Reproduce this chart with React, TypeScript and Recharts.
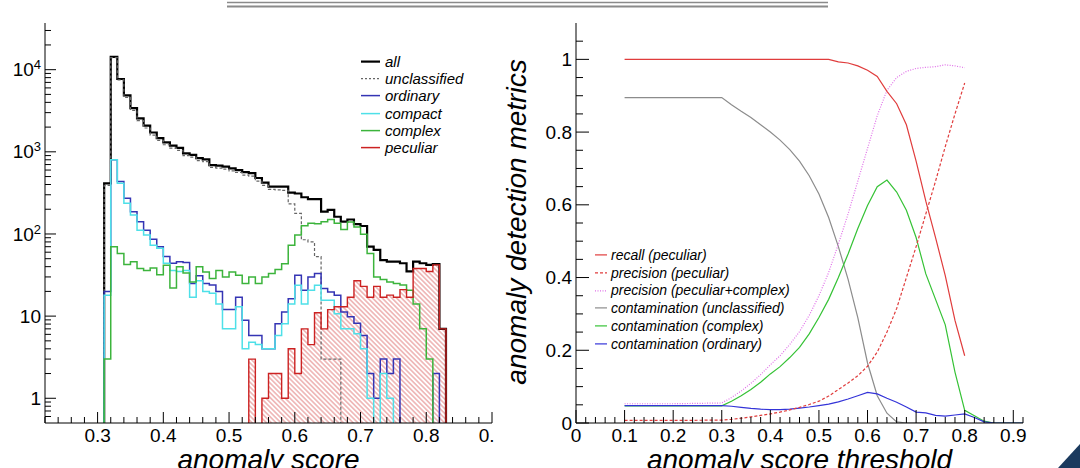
import React from "react";
import { ComposedChart, LineChart, Line, Area, XAxis, YAxis, Legend } from "recharts";

const FONT = '"Liberation Sans", Arimo, Arial, sans-serif';

// ---------------- left panel: anomaly score histogram ----------------
// lower edges of the 0.01 wide bins, last bin ends at 0.83
const binLow = [
  0.31, 0.32, 0.33, 0.34, 0.35, 0.36, 0.37, 0.38, 0.39, 0.4,
  0.41, 0.42, 0.43, 0.44, 0.45, 0.46, 0.47, 0.48, 0.49, 0.5,
  0.51, 0.52, 0.53, 0.54, 0.55, 0.56, 0.57, 0.58, 0.59, 0.6,
  0.61, 0.62, 0.63, 0.64, 0.65, 0.66, 0.67, 0.68, 0.69, 0.7,
  0.71, 0.72, 0.73, 0.74, 0.75, 0.76, 0.77, 0.78, 0.79, 0.8,
  0.81, 0.82,
];
const histStart = 0.3;
const histEnd = 0.83;

const countsAll = [
  414, 14300, 7700, 4860, 3400, 2560, 2080, 1720, 1470, 1300,
  1190, 1120, 960, 920, 840, 810, 690, 680, 660, 630,
  600, 565, 550, 480, 422, 377, 377, 377, 318, 311,
  280, 265, 265, 187, 196, 162, 141, 150, 132, 125,
  70, 64, 48, 46, 46, 44, 35, 46, 44, 42,
  43, 7,
];
const countsUnclassified = [
  390, 14000, 7500, 4600, 3200, 2400, 1950, 1600, 1380, 1220,
  1110, 1040, 900, 860, 780, 760, 645, 635, 615, 585,
  560, 520, 505, 440, 390, 350, 345, 340, 232, 178,
  85, 80, 53, 3, 3, 3, 0, 0, 0, 0,
  0, 0, 0, 0, 0, 0, 0, 0, 0, 0,
  0, 0,
];
const countsOrdinary = [
  20, 800, 434, 272, 187, 141, 111, 86, 70, 53,
  44, 46, 45, 25, 31, 25, 24, 20, 12, 12,
  17, 8.9, 5.8, 5.8, 4, 4, 8.1, 11.2, 16.3, 31.5,
  20.6, 30, 33, 21.7, 19.7, 18, 11.2, 9.8, 8.2, 5.8,
  2, 1, 3, 2, 3, 0, 0, 0, 0, 0,
  2, 0,
];
const countsCompact = [
  18, 800, 415, 237, 170, 111, 97, 73, 67, 44,
  36, 35, 36, 17, 27, 20, 19, 14, 7, 7,
  13, 4, 4.8, 4.5, 4, 4, 5.8, 8.1, 14, 23.7,
  14, 20.6, 23.7, 15.6, 15.6, 10.7, 7, 7, 6.1, 4,
  1, 0, 2, 1, 0, 0, 0, 0, 0, 0,
  0, 0,
];
const countsComplex = [
  3, 70, 58, 42.5, 46, 38, 36, 38.6, 32, 41.5,
  22, 40, 33.6, 26, 40, 34.5, 28.7, 36, 30, 34.5,
  31.5, 25, 30, 25, 30, 33, 37, 43.5, 73, 97,
  126, 135, 133, 141, 150, 135, 113, 140, 122, 99,
  58, 30, 28, 26, 25, 24, 20.6, 14, 7, 3,
  0, 0,
];
const countsPeculiar = [
  0, 0, 0, 0, 0, 0, 0, 0, 0, 0,
  0, 0, 0, 0, 0, 0, 0, 0, 0, 0,
  0, 0, 3, 0, 1, 2, 2, 1, 4, 2,
  7, 4.5, 11, 7, 12, 13, 13, 17, 27, 23,
  17, 23, 17, 18, 17, 21, 17, 38, 38, 35,
  42, 7,
];

const scoreTicks = [
  0.22, 0.24, 0.26, 0.28, 0.3, 0.32, 0.34, 0.36, 0.38, 0.4, 0.42, 0.44, 0.46, 0.48, 0.5,
  0.52, 0.54, 0.56, 0.58, 0.6, 0.62, 0.64, 0.66, 0.68, 0.7, 0.72, 0.74, 0.76, 0.78, 0.8,
  0.82, 0.84, 0.86, 0.88, 0.9,
];
const scoreMajor = [0.3, 0.4, 0.5, 0.6, 0.7, 0.8, 0.9];
const logTicks = [
  0.6, 0.7, 0.8, 0.9, 1, 2, 3, 4, 5, 6, 7, 8, 9, 10, 20, 30, 40, 50, 60, 70, 80, 90,
  100, 200, 300, 400, 500, 600, 700, 800, 900, 1000, 2000, 3000, 4000, 5000, 6000,
  7000, 8000, 9000, 10000, 20000, 30000,
];
const logMajor = [1, 10, 100, 1000, 10000];

// empty bins cannot sit on a log axis: put them under the axis minimum (clipped)
const LOG_FLOOR = 0.1;
const lg = (v: number) => (v > 0 ? v : LOG_FLOOR);
const emptyRow = (x: number) => ({
  x, all: LOG_FLOOR, unclassified: LOG_FLOOR, ordinary: LOG_FLOOR,
  compact: LOG_FLOOR, complex: LOG_FLOOR, peculiar: LOG_FLOOR,
});
const histRows = [
  emptyRow(histStart),
  ...binLow.map((x, i) => ({
    x,
    all: lg(countsAll[i]),
    unclassified: lg(countsUnclassified[i]),
    ordinary: lg(countsOrdinary[i]),
    compact: lg(countsCompact[i]),
    complex: lg(countsComplex[i]),
    peculiar: lg(countsPeculiar[i]),
  })),
  emptyRow(histEnd),
];

const leftLegend = [
  { name: "all", color: "#000000", width: 2.2 },
  { name: "unclassified", color: "#666666", width: 1.2, dash: "2 2" },
  { name: "ordinary", color: "#3434b4", width: 1.5 },
  { name: "compact", color: "#4ee0e8", width: 1.5 },
  { name: "complex", color: "#3cb43c", width: 1.5 },
  { name: "peculiar", color: "#cc2222", width: 1.5 },
];

// ---------------- right panel: metrics vs threshold ----------------
const thresholds = [
  0.1, 0.2, 0.3, 0.32, 0.34, 0.36, 0.38, 0.4, 0.42, 0.44, 0.46, 0.48, 0.5, 0.52, 0.54,
  0.56, 0.58, 0.6, 0.62, 0.64, 0.66, 0.68, 0.7, 0.72, 0.74, 0.76, 0.78, 0.8,
  0.82, 0.84, 0.86, 0.88, 0.9, 0.92,
];
const recallPeculiar = [
  1, 1, 1, 1, 1, 1, 1, 1, 1, 1, 1, 1, 1, 1, 0.993,
  0.99, 0.982, 0.97, 0.953, 0.912, 0.878, 0.82, 0.72, 0.61, 0.51, 0.405, 0.282, 0.185,
  null, null, null, null, null, null,
];
const precisionPeculiar = [
  0.007, 0.007, 0.008, 0.01, 0.013, 0.017, 0.021, 0.025, 0.03, 0.036, 0.043, 0.051, 0.06, 0.074, 0.092,
  0.11, 0.13, 0.156, 0.195, 0.25, 0.315, 0.4, 0.485, 0.575, 0.665, 0.76, 0.85, 0.935,
  null, null, null, null, null, null,
];
const precisionPecComplex = [
  0.053, 0.053, 0.055, 0.07, 0.088, 0.109, 0.133, 0.16, 0.185, 0.216, 0.251, 0.296, 0.35, 0.414, 0.492,
  0.575, 0.665, 0.755, 0.845, 0.915, 0.95, 0.967, 0.975, 0.978, 0.98, 0.985, 0.982, 0.977,
  null, null, null, null, null, null,
];
const contamUnclassified = [
  0.895, 0.895, 0.895, 0.875, 0.857, 0.84, 0.82, 0.8, 0.778, 0.752, 0.72, 0.68, 0.63, 0.565, 0.485,
  0.395, 0.29, 0.165, 0.075, 0.027, 0.003, 0, 0, 0, 0, 0, 0, 0,
  null, null, null, null, null, null,
];
const contamComplex = [
  0.047, 0.047, 0.047, 0.06, 0.075, 0.092, 0.112, 0.135, 0.155, 0.18, 0.208, 0.245, 0.29, 0.34, 0.4,
  0.465, 0.535, 0.598, 0.65, 0.668, 0.635, 0.585, 0.51, 0.41, 0.34, 0.27, 0.14, 0.035,
  0.02, 0.005, 0, 0, 0, 0,
];
const contamOrdinary = [
  0.048, 0.048, 0.048, 0.046, 0.043, 0.04, 0.038, 0.037, 0.037, 0.038, 0.041, 0.044, 0.048, 0.052, 0.058,
  0.066, 0.075, 0.084, 0.08, 0.068, 0.057, 0.044, 0.03, 0.028, 0.021, 0.019, 0.022, 0.025,
  0.015, 0.003, 0, 0, 0, 0,
];

const metricRows = thresholds.map((t, i) => ({
  t,
  recall: recallPeculiar[i],
  precision: precisionPeculiar[i],
  precisionPC: precisionPecComplex[i],
  unclassified: contamUnclassified[i],
  complex: contamComplex[i],
  ordinary: contamOrdinary[i],
}));

const thrTicks = [
  0, 0.02, 0.04, 0.06, 0.08, 0.1, 0.12, 0.14, 0.16, 0.18, 0.2, 0.22, 0.24, 0.26, 0.28, 0.3,
  0.32, 0.34, 0.36, 0.38, 0.4, 0.42, 0.44, 0.46, 0.48, 0.5, 0.52, 0.54, 0.56, 0.58, 0.6,
  0.62, 0.64, 0.66, 0.68, 0.7, 0.72, 0.74, 0.76, 0.78, 0.8, 0.82, 0.84, 0.86, 0.88, 0.9, 0.92,
];
const thrMajor = [0, 0.1, 0.2, 0.3, 0.4, 0.5, 0.6, 0.7, 0.8, 0.9];
const metricTicks = [
  0, 0.05, 0.1, 0.15, 0.2, 0.25, 0.3, 0.35, 0.4, 0.45, 0.5, 0.55, 0.6, 0.65, 0.7, 0.75,
  0.8, 0.85, 0.9, 0.95, 1, 1.05,
];
const metricMajor = [0, 0.2, 0.4, 0.6, 0.8, 1];

const rightLegend = [
  { name: "recall (peculiar)", color: "#e03c3c", width: 1.2 },
  { name: "precision (peculiar)", color: "#e03c3c", width: 1.2, dash: "3 2" },
  { name: "precision (peculiar+complex)", color: "#e070e8", width: 1.2, dash: "1 1.5" },
  { name: "contamination (unclassified)", color: "#8c8c8c", width: 1.2 },
  { name: "contamination (complex)", color: "#35c235", width: 1.2 },
  { name: "contamination (ordinary)", color: "#3434d8", width: 1.2 },
];

// ---------------- small renderers ----------------
const fmt = (v: number) => (v === 0 ? "0" : v === 1 ? "1" : v.toFixed(1));

const BottomTick = ({ x, y, payload, majors, major, minor }: any) => {
  const isMajor = majors.includes(payload.value);
  return (
    <g>
      <line x1={x} y1={y} x2={x} y2={y - (isMajor ? major : minor)} stroke="#000" strokeWidth={1} />
      {isMajor && (
        <text x={x} y={y + 19} textAnchor="middle" fontSize={19} fontFamily={FONT} fill="#000">
          {fmt(payload.value)}
        </text>
      )}
    </g>
  );
};

const LeftTick = ({ x, y, payload, majors, major, minor, log }: any) => {
  const v = payload.value;
  const isMajor = majors.includes(v);
  const exp = Math.round(Math.log10(v));
  return (
    <g>
      <line x1={x} y1={y} x2={x + (isMajor ? major : minor)} y2={y} stroke="#000" strokeWidth={1} />
      {isMajor && (
        <text x={x - 4} y={y} dy="0.35em" textAnchor="end" fontSize={19} fontFamily={FONT} fill="#000">
          {log && exp >= 2 ? (
            <>
              10<tspan dy={-7} fontSize={13}>{exp}</tspan>
            </>
          ) : log ? String(v) : fmt(v)}
        </text>
      )}
    </g>
  );
};

const LegendBox = ({ items, lineW, gap, fontSize, rowH }: any) => (
  <div style={{ fontFamily: FONT, fontStyle: "italic", fontSize, color: "#000" }}>
    {items.map((it: any) => (
      <div key={it.name} style={{ display: "flex", alignItems: "center", height: rowH, whiteSpace: "nowrap" }}>
        <svg width={lineW} height={rowH} style={{ marginRight: gap, display: "block" }}>
          <line x1={0} x2={lineW} y1={rowH / 2} y2={rowH / 2} stroke={it.color}
            strokeWidth={it.width} strokeDasharray={it.dash} />
        </svg>
        <span>{it.name}</span>
      </div>
    ))}
  </div>
);

const titleStyle = { fontFamily: FONT, fontStyle: "italic" as const, fontSize: 28, fill: "#000" };

export default function App() {
  return (
    <div style={{ position: "absolute", left: 0, top: 0, width: 1080, height: 468, background: "#fff", overflow: "hidden" }}>
      <div style={{ position: "absolute", left: 0, top: 0 }}>
        <ComposedChart width={495} height={468} data={histRows} margin={{ top: 23, right: 3, bottom: 0, left: 0 }}>
          <defs>
            <pattern id="hatch" width="3.4" height="3.4" patternUnits="userSpaceOnUse" patternTransform="rotate(-45)">
              <line x1="1.7" y1="0" x2="1.7" y2="3.4" stroke="#e07a7a" strokeWidth="0.9" />
            </pattern>
          </defs>
          <XAxis dataKey="x" type="number" domain={[0.22, 0.9]} allowDataOverflow ticks={scoreTicks} interval={0}
            height={45} tickSize={0} tickMargin={0} tickLine={false} axisLine={{ stroke: "#000" }}
            tick={(p: any) => <BottomTick {...p} majors={scoreMajor} major={11} minor={6} />}
            label={(p: any) => {
              const vb = p.viewBox;
              return <text x={vb.x + vb.width / 2} y={469} textAnchor="middle" style={titleStyle}>anomaly score</text>;
            }} />
          <XAxis xAxisId="top" orientation="top" type="number" domain={[0.22, 0.9]} allowDataOverflow height={0}
            tick={false} tickLine={false} axisLine={{ stroke: "#000" }} />
          <YAxis type="number" scale="log" domain={[0.5, 37000]} allowDataOverflow ticks={logTicks} interval={0}
            width={45} tickSize={0} tickMargin={0} tickLine={false} axisLine={{ stroke: "#000" }}
            tick={(p: any) => <LeftTick {...p} majors={logMajor} major={11} minor={6} log />} />
          <YAxis yAxisId="right" orientation="right" type="number" domain={[0, 1]} allowDataOverflow width={0}
            tick={false} tickLine={false} axisLine={{ stroke: "#000" }} />
          <Area dataKey="peculiar" type="stepAfter" stroke="none" fill="url(#hatch)"
            fillOpacity={1} dot={false} activeDot={false} isAnimationActive={false} />
          <Line dataKey="all" type="stepAfter" stroke="#000" strokeWidth={2.2} dot={false} activeDot={false} isAnimationActive={false} />
          <Line dataKey="unclassified" type="stepAfter" stroke="#666" strokeWidth={1.2} strokeDasharray="3 2"
            dot={false} activeDot={false} isAnimationActive={false} />
          <Line dataKey="ordinary" type="stepAfter" stroke="#3434b4" strokeWidth={1.5} dot={false} activeDot={false} isAnimationActive={false} />
          <Line dataKey="compact" type="stepAfter" stroke="#4ee0e8" strokeWidth={1.5} dot={false} activeDot={false} isAnimationActive={false} />
          <Line dataKey="complex" type="stepAfter" stroke="#3cb43c" strokeWidth={1.5} dot={false} activeDot={false} isAnimationActive={false} />
          <Line dataKey="peculiar" type="stepAfter" stroke="#cc2222" strokeWidth={1.4} dot={false} activeDot={false} isAnimationActive={false} />
          <Legend layout="vertical" align="center" verticalAlign="middle"
            wrapperStyle={{ left: 361, top: 53, width: "auto", height: "auto" }}
            content={() => <LegendBox items={leftLegend} lineW={19} gap={5} fontSize={15} rowH={17.2} />} />
        </ComposedChart>
      </div>

      <div style={{ position: "absolute", left: 495, top: 0 }}>
        <LineChart width={585} height={468} data={metricRows} margin={{ top: 23, right: 57, bottom: 0, left: 0 }}>
          <XAxis dataKey="t" type="number" domain={[0, 0.92]} allowDataOverflow ticks={thrTicks} interval={0}
            height={45} tickSize={0} tickMargin={0} tickLine={false} axisLine={{ stroke: "#000" }}
            tick={(p: any) => <BottomTick {...p} majors={thrMajor} major={13} minor={6} />}
            label={(p: any) => {
              const vb = p.viewBox;
              return <text x={vb.x + vb.width / 2} y={469} textAnchor="middle" style={titleStyle}>anomaly score threshold</text>;
            }} />
          <XAxis xAxisId="top" orientation="top" type="number" domain={[0, 0.92]} allowDataOverflow height={0}
            tick={false} tickLine={false} axisLine={{ stroke: "#000" }} />
          <YAxis type="number" domain={[0, 1.1]} allowDataOverflow ticks={metricTicks} interval={0}
            width={81} tickSize={0} tickMargin={0} tickLine={false} axisLine={{ stroke: "#000" }}
            tick={(p: any) => <LeftTick {...p} majors={metricMajor} major={13} minor={7} />}
            label={(p: any) => {
              const vb = p.viewBox;
              const x = vb.x + 31;
              const y = vb.y + vb.height / 2 - 1;
              return (
                <text x={x} y={y} transform={`rotate(-90 ${x} ${y})`} textAnchor="middle" style={titleStyle}>
                  anomaly detection metrics
                </text>
              );
            }} />
          <YAxis yAxisId="right" orientation="right" type="number" domain={[0, 1]} allowDataOverflow width={0}
            tick={false} tickLine={false} axisLine={{ stroke: "#000" }} />
          <Line dataKey="unclassified" stroke="#8c8c8c" strokeWidth={1.2} dot={false} activeDot={false} isAnimationActive={false} />
          <Line dataKey="complex" stroke="#35c235" strokeWidth={1.2} dot={false} activeDot={false} isAnimationActive={false} />
          <Line dataKey="ordinary" stroke="#3434d8" strokeWidth={1.2} dot={false} activeDot={false} isAnimationActive={false} />
          <Line dataKey="precisionPC" stroke="#e070e8" strokeWidth={1.2} strokeDasharray="1 1.5" dot={false} activeDot={false} isAnimationActive={false} />
          <Line dataKey="precision" stroke="#e03c3c" strokeWidth={1.2} strokeDasharray="3 2" dot={false} activeDot={false} isAnimationActive={false} />
          <Line dataKey="recall" stroke="#e03c3c" strokeWidth={1.2} dot={false} activeDot={false} isAnimationActive={false} />
          <Legend layout="vertical" align="center" verticalAlign="middle"
            wrapperStyle={{ left: 100, top: 246, width: "auto", height: "auto" }}
            content={() => <LegendBox items={rightLegend} lineW={12} gap={4} fontSize={14} rowH={17.8} />} />
        </LineChart>
      </div>

      <svg width={1080} height={468} style={{ position: "absolute", left: 0, top: 0, pointerEvents: "none" }}>
        <line x1={227} y1={2.5} x2={828} y2={2.5} stroke="#8a8a8a" strokeWidth={1.5} />
        <line x1={227} y1={6.5} x2={828} y2={6.5} stroke="#8a8a8a" strokeWidth={2} />
        <polygon points="1058,468 1080,444 1080,468" fill="#1b3a5e" />
      </svg>
    </div>
  );
}
